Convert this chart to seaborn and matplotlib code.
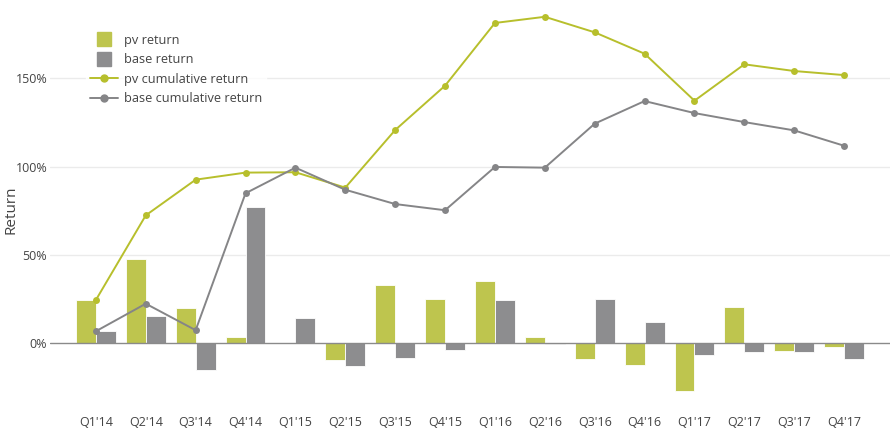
import numpy as np
import pandas as pd
import matplotlib
matplotlib.use('Agg')
import matplotlib.pyplot as plt
import seaborn as sns
from matplotlib.lines import Line2D
from matplotlib.ticker import FuncFormatter

# dados
quarters = ["Q1'14", "Q2'14", "Q3'14", "Q4'14", "Q1'15", "Q2'15", "Q3'15", "Q4'15",
            "Q1'16", "Q2'16", "Q3'16", "Q4'16", "Q1'17", "Q2'17", "Q3'17", "Q4'17"]
pv_return = [24.5, 47.7, 19.8, 3.6, 0.1, -9.4, 32.8, 24.9,
             35.3, 3.4, -8.9, -12.3, -26.8, 20.4, -4.2, -2.3]
base_return = [6.8, 15.3, -15.1, 77.3, 14.1, -12.7, -8.1, -3.8,
               24.3, -0.5, 24.9, 12.2, -6.6, -5.1, -5.1, -8.9]
pv_cum = [24.5, 72.4, 92.6, 96.6, 96.8, 88.1, 120.7, 145.8,
          181.3, 184.8, 176.0, 163.9, 137.3, 157.9, 154.1, 151.8]
base_cum = [6.8, 22.4, 7.4, 84.9, 99.4, 86.9, 78.8, 75.3,
            99.8, 99.4, 124.3, 137.1, 130.3, 125.2, 120.5, 111.8]

pv_bar_color = '#bec54e'
base_bar_color = '#8d8d8f'
pv_line_color = '#b7bf2c'
base_line_color = '#858587'
text_color = '#444444'

sns.set_theme(style='white')
plt.rcParams['font.family'] = ['Open Sans', 'DejaVu Sans']

bars_df = pd.DataFrame({
    'quarter': quarters * 2,
    'value': pv_return + base_return,
    'serie': ['pv return'] * len(quarters) + ['base return'] * len(quarters),
})

fig = plt.figure(figsize=(8.93, 4.36), dpi=100)
ax = fig.add_axes([50 / 893, 1 - 399.8 / 436, 840 / 893, 392.2 / 436])

sns.barplot(data=bars_df, x='quarter', y='value', hue='serie',
            palette={'pv return': pv_bar_color, 'base return': base_bar_color},
            width=0.8, saturation=1, edgecolor='white', linewidth=0.6,
            legend=False, ax=ax)

x = np.arange(len(quarters))
sns.lineplot(x=x, y=pv_cum, color=pv_line_color, marker='o', markersize=5,
             markeredgewidth=0, linewidth=1.4, ax=ax)
sns.lineplot(x=x, y=base_cum, color=base_line_color, marker='o', markersize=5,
             markeredgewidth=0, linewidth=1.4, ax=ax)

ax.set_xlim(-0.92, 15.92)
ax.set_ylim(-32, 190)
ax.set_yticks([0, 50, 100, 150])
ax.yaxis.set_major_formatter(FuncFormatter(lambda v, p: f'{v:.0f}%'))
for v in [50, 100, 150]:
    ax.axhline(v, color='#ebebeb', linewidth=1, zorder=0)
ax.axhline(0, color='#8a8a8a', linewidth=1, zorder=1.5)

for s in ax.spines.values():
    s.set_visible(False)
ax.tick_params(axis='both', length=0, labelsize=9, colors=text_color)
ax.tick_params(axis='x', pad=12)
ax.tick_params(axis='y', pad=2)
ax.set_xlabel('')
ax.set_ylabel('Return', fontsize=11, color=text_color)
ax.yaxis.set_label_coords(-0.038, 0.485)

handles = [
    Line2D([], [], linestyle='none', marker='s', markersize=10, color=pv_bar_color),
    Line2D([], [], linestyle='none', marker='s', markersize=10, color=base_bar_color),
    Line2D([], [], color=pv_line_color, marker='o', markersize=5, linewidth=1.4),
    Line2D([], [], color=base_line_color, marker='o', markersize=5, linewidth=1.4),
]
labels = ['pv return', 'base return', 'pv cumulative return', 'base cumulative return']
leg = fig.legend(handles, labels, loc='upper left', bbox_to_anchor=(86 / 893, 1 - 30 / 436),
                 frameon=True, fontsize=9.2, handlelength=2.2, handletextpad=0.5,
                 labelspacing=0.5, borderpad=0.3, borderaxespad=0)
leg.get_frame().set_facecolor('white')
leg.get_frame().set_edgecolor('white')
for t in leg.get_texts():
    t.set_color(text_color)

plt.savefig('out.png', dpi=100)
